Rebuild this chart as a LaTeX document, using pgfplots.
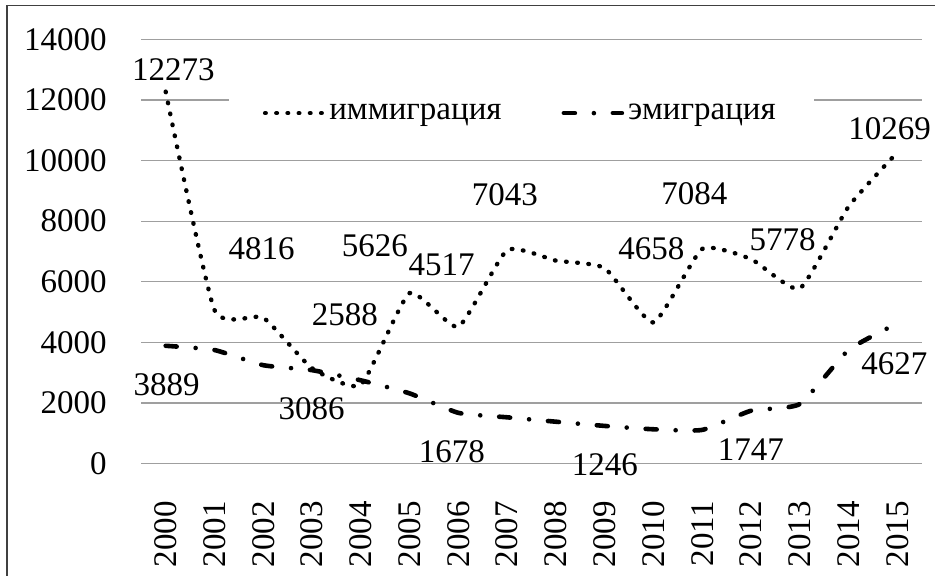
\documentclass[border=0pt]{standalone}
\usepackage{pgfplots}
\pgfplotsset{compat=1.18}
\usepackage{fontspec}
\setmainfont{Liberation Serif}
\newcommand\fs{\rmfamily\fontsize{16.5}{19}\selectfont}
\begin{document}
\begin{tikzpicture}
\useasboundingbox (0,0) rectangle (467.5pt,288pt);
\draw[black!75, line width=0.9pt] (3.5pt,0pt) -- (3.5pt,285.2pt) -- (467.5pt,285.2pt);
\begin{axis}[
  at={(70.65pt,56.15pt)}, anchor=south west,
  width=390.2pt, height=212.2pt, scale only axis,
  xmin=-0.5, xmax=15.5, ymin=0, ymax=14000,
  axis lines=left, axis line style={draw=none}, tick style={draw=none},
  ymajorgrids, major grid style={gray!75, line width=0.6pt},
  scaled y ticks=false,
  ytick={0,2000,4000,6000,8000,10000,12000,14000},
  yticklabels={0,2000,4000,6000,8000,10000,12000,14000},
  xtick={0,...,15},
  xticklabels={2000,2001,2002,2003,2004,2005,2006,2007,2008,2009,2010,2011,2012,2013,2014,2015},
  tick label style={font=\fs, inner sep=0pt},
  yticklabel style={anchor=east},
  yticklabel shift=15pt,
  xticklabel style={rotate=90, anchor=east},
  xticklabel shift=16.5pt,
  clip=false,
  legend columns=2,
  legend style={at={(0.487,0.826)}, anchor=center, draw=none, fill=white,
    font=\fs, inner xsep=17pt, inner ysep=4pt,
    /tikz/every even column/.append style={column sep=28pt}},
  legend image code/.code={\draw[#1] (0pt,0pt) -- (29pt,0pt);},
]
\addplot[black, line width=2.2pt, line cap=round, dash pattern=on 0.3pt off 5.3pt, smooth, tension=0.3]
  coordinates {(0,12273) (1,5070) (2,4816) (3,3150) (4,2600) (5,5626) (6,4517) (7,7043)
  (8,6700) (9,6450) (10,4658) (11,7084) (12,6750) (13,5778) (14,8480) (15,10269)};
\addlegendentry{иммиграция}
\addplot[black, line width=2.3pt, line cap=round, dash pattern=on 5.5pt off 9.5pt on 0pt off 9.5pt, smooth, tension=0.3]
  coordinates {(0,3889) (1,3750) (2,3250) (3,3086) (4,2750) (5,2320) (6,1678) (7,1530)
  (8,1385) (9,1246) (10,1135) (11,1115) (12,1747) (13,1970) (14,3750) (15,4627)};
\addlegendentry{эмиграция}
\node[font=\fs] at (axis cs:0.156,12987) {12273};
\node[font=\fs] at (axis cs:1.967,7106) {4816};
\node[font=\fs] at (axis cs:4.289,7205) {5626};
\node[font=\fs] at (axis cs:5.656,6555) {4517};
\node[font=\fs] at (axis cs:6.953,8864) {7043};
\node[font=\fs] at (axis cs:10.84,8920) {7084};
\node[font=\fs] at (axis cs:9.959,7106) {4658};
\node[font=\fs] at (axis cs:12.65,7380) {5778};
\node[font=\fs] at (axis cs:14.84,11064) {10269};
\node[font=\fs] at (axis cs:3.676,4905) {2588};
\node[font=\fs] at (axis cs:0.02,2596) {3889};
\node[font=\fs] at (axis cs:2.992,1827) {3086};
\node[font=\fs] at (axis cs:5.867,396) {1678};
\node[font=\fs] at (axis cs:9.002,-43) {1246};
\node[font=\fs] at (axis cs:12.0,452) {1747};
\node[font=\fs] at (axis cs:14.94,3312) {4627};
\end{axis}
\end{tikzpicture}
\end{document}
